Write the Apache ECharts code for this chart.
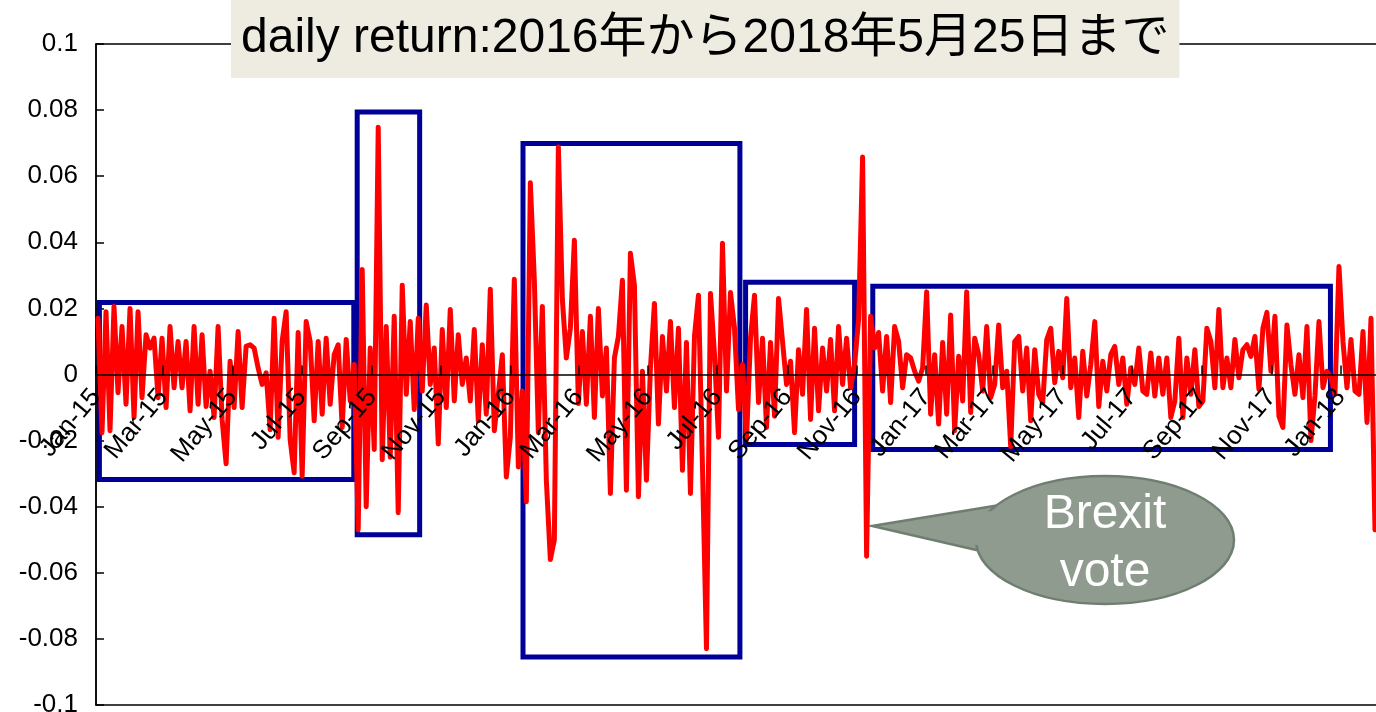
<!DOCTYPE html>
<html>
<head>
<meta charset="utf-8">
<title>daily return</title>
<script src="https://cdn.jsdelivr.net/npm/echarts@6/dist/echarts.min.js"></script>
<style>
  html, body { margin: 0; padding: 0; background: #fff; }
  #chart { width: 1376px; height: 712px; }
</style>
</head>
<body>
<div id="chart"></div>
<script>
// daily returns left to right
const returns = [
  0.0170, -0.0176, 0.0190, -0.0170, 0.0206, -0.0055, 0.0145, -0.0090, 0.0200, -0.0130,
  0.0190, -0.0070, 0.0120, 0.0080, 0.0110, -0.0070, 0.0110, -0.0100, 0.0145, -0.0040,
  0.0100, -0.0040, 0.0100, -0.0110, 0.0145, -0.0090, 0.0120, -0.0097, 0.0010, -0.0130,
  0.0145, -0.0136, -0.0270, 0.0040, -0.0100, 0.0130, -0.0100, 0.0085, 0.0090, 0.0080,
  0.0020, -0.0030, 0.0005, -0.0167, 0.0170, -0.0190, 0.0100, 0.0190, -0.0197, -0.0297,
  0.0127, -0.0308, 0.0160, 0.0100, -0.0140, 0.0100, -0.0120, 0.0110, -0.0090, 0.0060,
  0.0090, -0.0160, 0.0106, -0.0080, 0.0030, -0.0470, 0.0318, -0.0400, 0.0080, -0.0227,
  0.0748, -0.0258, 0.0145, -0.0250, 0.0176, -0.0418, 0.0270, -0.0060, 0.0160, -0.0106,
  0.0170, -0.0050, 0.0210, -0.0030, 0.0080, -0.0210, 0.0136, -0.0100, 0.0197, -0.0080,
  0.0120, -0.0030, 0.0050, -0.0080, 0.0136, -0.0140, 0.0090, -0.0120, 0.0258, -0.0170,
  -0.0060, 0.0060, -0.0310, -0.0190, 0.0288, -0.0280, -0.0050, -0.0385, 0.0580, 0.0285,
  -0.0176, 0.0206, -0.0320, -0.0560, -0.0500, 0.0688, 0.0227, 0.0050, 0.0140, 0.0406,
  -0.0088, 0.0130, -0.0090, 0.0176, -0.0130, 0.0200, -0.0065, 0.0080, -0.0360, 0.0050,
  0.0115, 0.0285, -0.0350, 0.0367, 0.0270, -0.0370, 0.0010, -0.0320, 0.0020, 0.0215,
  -0.0150, 0.0115, -0.0050, 0.0160, -0.0100, 0.0140, -0.0290, 0.0097, -0.0360, 0.0115,
  0.0240, -0.0280, -0.0830, 0.0245, 0.0060, -0.0190, 0.0397, -0.0050, 0.0248, 0.0140,
  -0.0106, 0.0030, -0.0197, 0.0110, 0.0240, -0.0085, 0.0110, -0.0160, 0.0097, -0.0126,
  0.0230, 0.0100, -0.0030, 0.0040, -0.0176, 0.0075, -0.0060, 0.0197, -0.0136, 0.0140,
  -0.0110, 0.0080, -0.0050, 0.0106, -0.0110, 0.0145, -0.0030, 0.0110, -0.0040, 0.0030,
  0.0167, 0.0658, -0.0550, 0.0176, 0.0080, 0.0127, -0.0050, 0.0115, -0.0085, 0.0145,
  0.0100, -0.0040, 0.0060, 0.0050, 0.0010, -0.0020, 0.0020, 0.0250, -0.0120, 0.0060,
  -0.0150, 0.0097, -0.0120, 0.0180, -0.0170, 0.0055, -0.0080, 0.0250, -0.0115, 0.0110,
  0.0060, -0.0050, 0.0145, -0.0070, -0.0030, 0.0150, -0.0040, 0.0010, -0.0218, 0.0100,
  0.0115, -0.0050, 0.0080, -0.0140, 0.0075, -0.0060, -0.0085, 0.0106, 0.0140, -0.0025,
  0.0070, -0.0010, 0.0230, -0.0040, 0.0050, -0.0130, 0.0070, -0.0065, 0.0030, 0.0160,
  -0.0097, 0.0040, -0.0050, 0.0060, 0.0085, -0.0030, 0.0050, -0.0090, 0.0020, -0.0030,
  0.0080, -0.0050, -0.0060, 0.0065, -0.0065, 0.0050, -0.0060, 0.0050, -0.0130, -0.0080,
  0.0110, -0.0130, 0.0050, -0.0060, 0.0075, -0.0097, -0.0080, 0.0140, 0.0100, -0.0040,
  0.0197, -0.0040, 0.0050, -0.0040, 0.0106, -0.0010, 0.0075, 0.0090, 0.0055, 0.0115,
  -0.0045, 0.0140, 0.0188, 0.0010, 0.0176, -0.0126, -0.0160, 0.0150, 0.0030, -0.0060,
  0.0060, -0.0070, 0.0145, -0.0200, -0.0065, 0.0160, -0.0040, 0.0010, -0.0010, -0.0060,
  0.0327, 0.0100, -0.0040, 0.0106, -0.0050, -0.0060, 0.0130, -0.0145, 0.0170, -0.0470
];

// x axis labels (every two months)
const tickDates = [
  '2015-01-01', '2015-03-01', '2015-05-01', '2015-07-01', '2015-09-01', '2015-11-01',
  '2016-01-01', '2016-03-01', '2016-05-01', '2016-07-01', '2016-09-01', '2016-11-01',
  '2017-01-01', '2017-03-01', '2017-05-01', '2017-07-01', '2017-09-01', '2017-11-01',
  '2018-01-01'
];
const tickLabels = [
  'Jan-15', 'Mar-15', 'May-15', 'Jul-15', 'Sep-15', 'Nov-15',
  'Jan-16', 'Mar-16', 'May-16', 'Jul-16', 'Sep-16', 'Nov-16',
  'Jan-17', 'Mar-17', 'May-17', 'Jul-17', 'Sep-17', 'Nov-17',
  'Jan-18'
];
const dateRange = ['2015-01-01', '2018-02-02'];

// highlighted periods (blue boxes)
const boxFrom = ['2015-01-04', '2015-08-19', '2016-01-12', '2016-07-26', '2016-11-15'];
const boxTo = ['2015-08-16', '2015-10-13', '2016-07-21', '2016-10-30', '2017-12-23'];
const boxHigh = [0.0218, 0.0794, 0.0699, 0.0279, 0.0267];
const boxLow = [-0.0318, -0.0485, -0.0855, -0.0212, -0.0227];

const titleText = 'daily return:2016年から2018年5月25日まで';
const noteText = 'Brexit\nvote';

const font = "'Liberation Sans', Arial, 'Noto Sans CJK JP', sans-serif";

// dates -> day number since the first day of the axis
const t0 = echarts.number.parseDate(dateRange[0]).getTime();
const toDay = s => Math.round((echarts.number.parseDate(s).getTime() - t0) / 86400000);
const tickDays = tickDates.map(toDay);
const labelOf = {};
tickDays.forEach((d, i) => { labelOf[d] = tickLabels[i]; });
const dayIndex = returns.map((_, i) => i);

const boxes = boxFrom.map((d, i) => [
  { coord: [toDay(d), boxHigh[i]] },
  { coord: [toDay(boxTo[i]), boxLow[i]] }
]);

const gridTop = 44;
const gridBottom = 7;
const chartHeight = 712;
// the date labels sit on the zero line (half way, since the y range is symmetric)
const zeroOffset = -(chartHeight - gridTop - gridBottom) / 2;

const chart = echarts.init(document.getElementById('chart'));

const noteFill = '#8E9B8E';
const noteStroke = '#6F7E70';

chart.setOption({
  animation: false,
  title: {
    text: titleText,
    left: 231,
    top: 0,
    padding: [14, 10, 14, 10],
    backgroundColor: '#EEECE1',
    textStyle: {
      fontSize: 48,
      fontWeight: 'normal',
      color: '#000',
      fontFamily: font,
      lineHeight: 50
    }
  },
  grid: {
    left: 96,
    right: -1,
    top: gridTop,
    bottom: gridBottom,
    outerBoundsMode: 'none',
    containLabel: false,
    show: true,
    borderColor: '#000',
    borderWidth: 1.5
  },
  xAxis: [
    {
      type: 'category',
      data: dayIndex,
      boundaryGap: true,
      z: 5,
      axisLine: {
        onZero: true,
        onZeroAxisIndex: 0,
        lineStyle: { color: '#000', width: 1.5 }
      },
      axisTick: { show: false },
      axisLabel: { show: false },
      splitLine: { show: false }
    },
    {
      type: 'value',
      position: 'bottom',
      offset: zeroOffset,
      min: 0,
      max: toDay(dateRange[1]),
      z: 6,
      axisLine: { show: false, onZero: false },
      axisTick: {
        show: true,
        inside: true,
        length: 9,
        customValues: tickDays,
        lineStyle: { color: '#000', width: 1.5 }
      },
      axisLabel: {
        customValues: tickDays,
        rotate: 50,
        margin: 18,
        fontSize: 26,
        color: '#000',
        fontFamily: font,
        hideOverlap: false,
        formatter: v => labelOf[v] || ''
      },
      splitLine: { show: false }
    }
  ],
  yAxis: {
    type: 'value',
    min: -0.1,
    max: 0.1,
    interval: 0.02,
    axisLine: { show: true, lineStyle: { color: '#000', width: 1.5 } },
    axisTick: { show: true, inside: true, length: 8, lineStyle: { color: '#000', width: 1.5 } },
    axisLabel: { margin: 18, fontSize: 26, color: '#000', fontFamily: font },
    splitLine: { show: false }
  },
  series: [
    {
      type: 'line',
      name: 'daily return',
      xAxisIndex: 0,
      data: returns,
      showSymbol: false,
      lineStyle: { color: '#FF0000', width: 5, cap: 'round', join: 'round' },
      z: 2
    },
    {
      type: 'line',
      name: 'periods',
      xAxisIndex: 1,
      data: [],
      z: 4,
      markArea: {
        silent: true,
        itemStyle: { color: 'rgba(0,0,0,0)', borderColor: '#000099', borderWidth: 5 },
        data: boxes
      }
    }
  ],
  graphic: [
    {
      type: 'group',
      z: 100,
      children: [
        {
          type: 'polygon',
          shape: { points: [[1000, 505], [872, 526], [985, 552]] },
          style: { fill: noteFill, stroke: noteStroke, lineWidth: 2.5 }
        },
        {
          type: 'ellipse',
          shape: { cx: 1105, cy: 540, rx: 129, ry: 64 },
          style: { fill: noteFill, stroke: noteStroke, lineWidth: 2.5 }
        },
        {
          type: 'polygon',
          shape: { points: [[1006, 509], [880, 526], [992, 548]] },
          style: { fill: noteFill }
        },
        {
          type: 'text',
          style: {
            text: noteText,
            x: 1105,
            y: 544,
            align: 'center',
            verticalAlign: 'middle',
            fill: '#fff',
            fontSize: 48,
            fontFamily: font,
            lineHeight: 58
          }
        }
      ]
    }
  ]
});
</script>
</body>
</html>
